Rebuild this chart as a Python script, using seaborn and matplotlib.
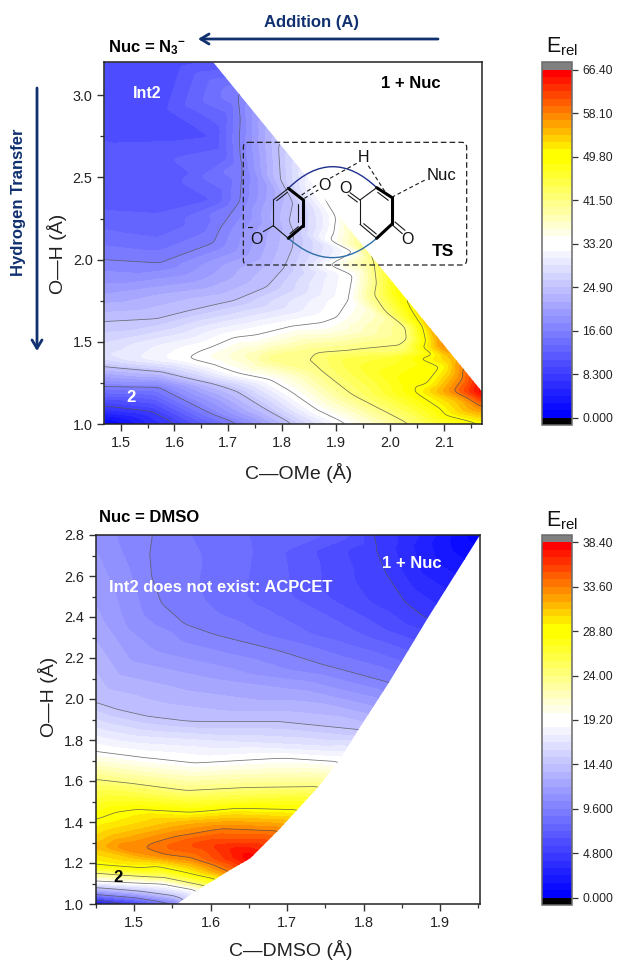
import numpy as np
import matplotlib
matplotlib.use("Agg")
import matplotlib.pyplot as plt
import seaborn as sns
from matplotlib.colors import ListedColormap, BoundaryNorm
from matplotlib.patches import FancyBboxPatch, PathPatch, FancyArrowPatch, Polygon
from matplotlib.path import Path
from matplotlib.ticker import MultipleLocator, FormatStrFormatter
from matplotlib.tri import Triangulation, LinearTriInterpolator

n3_x = [1.47,1.56,1.604, 1.47,1.57,1.617,1.666,1.72, 1.47,1.573,1.623,1.68,1.716,1.772,1.82,
        1.623,1.673,1.716,1.778,1.815,1.865,1.92, 1.648,1.666,1.71,1.753,1.815,1.871,1.902,1.924,1.932,1.934,1.9,1.8675,
        1.79,1.868,1.927,2.036, 1.859,1.927,2.02,2.033,2.03,1.97,1.9525,
        2.0175,2.06,2.095,2.07,2.045,2.044,2.17, 2.1,2.135,2.117,2.17, 2.17,
        1.47,1.573,1.63,1.71,1.772,1.803,1.819,1.822,1.82,1.7925,
        1.47,1.573,1.672,1.709,1.726,1.7175,
        1.47,1.5,1.57,1.672,1.672, 1.47,1.6,1.57, 1.47,1.57,1.672, 1.47,
        1.47,1.55,1.6, 1.7,1.75,1.9,2.0,2.0, 2.12,2.13,1.87,1.47,1.47,
        1.70,1.70,1.47,1.57,1.65]
n3_y = [1.11,1.076,1.0, 1.23,1.225,1.147,1.066,1.0, 1.35,1.32,1.28,1.24,1.2,1.086,1.0,
        1.40,1.36,1.31,1.27,1.2,1.086,1.0, 1.444,1.465,1.527,1.533,1.594,1.602,1.65,1.76,1.905,2.05,2.27,2.41,
        1.40,1.336,1.184,1.0, 1.434,1.45,1.455,1.516,1.59,1.99,2.07,
        1.81,1.6,1.35,1.244,1.244,1.2,1.0, 1.48,1.28,1.2,1.107, 1.2,
        1.625,1.643,1.69,1.75,1.834,1.947,2.07,2.16,2.35,2.71,
        2.0,1.98,2.10,2.30,2.56,3.01,
        2.72,2.63,2.45,2.74,3.2, 3.2,3.2,2.9, 2.30,2.23,2.36, 1.8,
        1.42,1.40,1.40, 1.42,1.41,1.4,1.3,1.4, 1.4,1.15,2.2,1.0,1.5,
        2.9,2.6,2.13,2.09,2.2]
n3_e = [8.3,8.3,8.3, 16.6,16.6,16.6,16.6,16.6, 24.9,24.9,24.9,24.9,24.9,24.9,24.9,
        33.2,33.2,33.2,33.2,33.2,33.2,33.2, 33.2,33.2,33.2,33.2,33.2,33.2,33.2,33.2,33.2,33.2,33.2,33.2,
        41.5,41.5,41.5,41.5, 41.5,41.5,41.5,41.5,41.5,41.5,41.5,
        49.8,49.8,49.8,49.8,49.8,49.8,49.8, 58.1,58.1,58.1,58.1, 66.4,
        24.9,24.9,24.9,24.9,24.9,24.9,24.9,24.9,24.9,24.9,
        16.6,16.6,16.6,16.6,16.6,16.6,
        11.07,11.07,11.07,11.07,11.07, 10.4,10.4,10.4, 12.45,12.45,12.45, 20.5,
        29,31,32.6, 36,38.5,44,48,46, 55,55,29.5,0.5,27.5,
        14,14,14.5,14.5,14.5]
n3_edge_x = [1.47, 1.47, 1.672, 2.17, 2.17]
n3_edge_y = [1.0, 3.2, 3.2, 1.2, 1.0]

dmso_x = [1.813,1.817,1.83,1.856,1.883, 1.524,1.52,1.522,1.535,1.567,1.6,1.687,1.757,1.833,
          1.45,1.478,1.517,1.57,1.687,1.793, 1.45,1.517,1.578,1.696,1.767, 1.45,1.496,1.57,1.643,1.743,
          1.45,1.477,1.502,1.574,1.635,1.715, 1.489,1.515,1.552,1.617,1.689, 1.539,1.574,1.604,1.622,
          1.45,1.509,1.53,1.57,1.609, 1.45,1.496,1.539,1.591, 1.45,1.496,1.539,1.583,
          1.45,1.5,1.55,1.565, 1.45,1.5,1.556, 1.45,1.5,
          1.45,1.45,1.95,1.652, 1.45,1.7,1.8, 1.5,1.6,1.72, 1.5,1.63,1.74, 1.5,1.63,1.73,
          1.5,1.63,1.72, 1.55,1.63,1.7, 1.45,1.47,1.5,1.57, 1.55,1.6,1.64,
          1.478,1.574,1.65,1.75,1.785, 1.88, 1.49,1.49,1.60,1.655,1.87]
dmso_y = [2.8,2.727,2.613,2.467,2.39, 2.8,2.694,2.597,2.467,2.361,2.32,2.239,2.157,2.08,
          1.98,1.946,1.913,1.889,1.889,1.849, 1.743,1.711,1.686,1.711,1.694, 1.608,1.589,1.553,1.567,1.572,
          1.413,1.45,1.462,1.447,1.467,1.459, 1.276,1.288,1.328,1.369,1.358, 1.239,1.223,1.19,1.158,
          1.19,1.174,1.182,1.15,1.12, 1.15,1.137,1.128,1.088, 1.112,1.104,1.098,1.068,
          1.08,1.065,1.04,1.02, 1.045,1.03,1.0, 1.02,1.0,
          1.0,2.8,2.8,1.223, 2.4,2.5,2.31, 2.2,2.1,2.05, 1.82,1.79,1.77, 1.65,1.63,1.64,
          1.52,1.51,1.52, 1.40,1.42,1.41, 1.28,1.34,1.22,1.19, 1.28,1.29,1.26,
          2.8,2.8,2.8,2.8,2.8, 2.8, 2.6,2.35,2.55,2.72,2.6]
dmso_e = [4.8,4.8,4.8,4.8,4.8, 9.6,9.6,9.6,9.6,9.6,9.6,9.6,9.6,9.6,
          14.4,14.4,14.4,14.4,14.4,14.4, 19.2,19.2,19.2,19.2,19.2, 24,24,24,24,24,
          28.8,28.8,28.8,28.8,28.8,28.8, 33.6,33.6,33.6,33.6,33.6, 33.6,33.6,33.6,33.6,
          28.8,28.8,28.8,28.8,28.8, 24,24,24,24, 19.2,19.2,19.2,19.2,
          14.4,14.4,14.4,14.4, 9.6,9.6,9.6, 4.8,4.8,
          1.5,11,0.3,38.2, 12.2,7.3,7.2, 11.8,12,11.9, 16.8,16.8,16.8, 21.6,21.6,21.6,
          26.4,26.4,26.4, 31.2,31.2,31.2, 31.5,31,31,31.2, 34.8,36,37.5,
          10.4,8.8,8.0,7.2,6.4, 3.0, 10.6,11.2,8.6,8.0,3.4]
dmso_edge_x = [1.45, 1.45, 1.952, 1.883, 1.833, 1.793, 1.767, 1.739, 1.689, 1.652, 1.622, 1.583, 1.556]
dmso_edge_y = [1.0, 2.8, 2.8, 2.39, 2.08, 1.849, 1.694, 1.564, 1.361, 1.223, 1.158, 1.068, 1.0]

n3_cbar_ticks = [0.0, 8.3, 16.6, 24.9, 33.2, 41.5, 49.8, 58.1, 66.4]
n3_cbar_labels = ["0.000", "8.300", "16.60", "24.90", "33.20", "41.50", "49.80", "58.10", "66.40"]
dmso_cbar_ticks = [0.0, 4.8, 9.6, 14.4, 19.2, 24.0, 28.8, 33.6, 38.4]
dmso_cbar_labels = ["0.000", "4.800", "9.600", "14.40", "19.20", "24.00", "28.80", "33.60", "38.40"]

# ---------- style ----------
sns.set_theme(style="ticks")
plt.rcParams.update({
    "font.family": ["Liberation Sans", "DejaVu Sans"],
    "mathtext.fontset": "custom",
    "mathtext.rm": "Liberation Sans",
    "mathtext.it": "Liberation Sans:italic",
    "mathtext.bf": "Liberation Sans:bold",
    "mathtext.default": "regular",
    "axes.edgecolor": "#222222",
    "xtick.color": "#333333", "ytick.color": "#333333",
    "xtick.labelcolor": "#222222", "ytick.labelcolor": "#222222",
})
W, H = 617, 961
NAVY = "#10306f"
fig = plt.figure(figsize=(W / 100, H / 100), dpi=100, facecolor="white")


def rect(l, t, r, b):
    return [l / W, 1 - b / H, (r - l) / W, (b - t) / H]


def make_cmap():
    lower = sns.blend_palette(["#0000ff", "#ffffff"], 24)
    upper = sns.blend_palette(["#ffffff", "#ffff00"], 12) + sns.blend_palette(["#ffff00", "#ff0000"], 12)
    cm = ListedColormap(list(lower) + list(upper))
    cm.set_under("#000000")
    cm.set_over("#808080")
    return cm


def surface(x, y, e, xlim, ylim, sigma=2.0):
    """Turn the read samples into a surface on a fine grid, lightly evened out."""
    gx = np.linspace(xlim[0], xlim[1], 380)
    gy = np.linspace(ylim[0], ylim[1], 370)
    GX, GY = np.meshgrid(gx, gy)
    zi = LinearTriInterpolator(Triangulation(x, y), e)(GX, GY)
    w = (~np.ma.getmaskarray(zi)).astype(float)
    v = np.ma.filled(zi, 0.0) * w
    r = int(4 * sigma)
    k = np.exp(-0.5 * (np.arange(-r, r + 1) / sigma) ** 2)
    k /= k.sum()
    for axis in (0, 1):
        v = np.apply_along_axis(lambda m: np.convolve(m, k, mode="same"), axis, v)
        w = np.apply_along_axis(lambda m: np.convolve(m, k, mode="same"), axis, w)
    Z = np.where(w > 1e-4, v / np.maximum(w, 1e-4), np.nan)
    return gx, gy, np.ma.masked_invalid(Z)


def panel(box, cbox, x, y, e, edge_x, edge_y, ticks, labels, xlim, ylim, xmaj, ymaj, xlabel, ylabel, xl, yl):
    ax = fig.add_axes(rect(*box))
    top = ticks[-1]
    levels = [top * i / 48 for i in range(49)]
    cmap = make_cmap()
    norm = BoundaryNorm(levels, 48)
    gx, gy, Z = surface(x, y, e, xlim, ylim)
    clip = Polygon(np.column_stack([edge_x, edge_y]), closed=True, transform=ax.transData)
    cs = ax.contourf(gx, gy, Z, levels=levels, cmap=cmap, norm=norm, extend="both")
    cs.set_clip_path(clip)
    cl = ax.contour(gx, gy, Z, levels=ticks[1:-1], colors="#505050", linewidths=0.55, alpha=0.8)
    cl.set_clip_path(clip)
    ax.set_xlim(*xlim)
    ax.set_ylim(*ylim)
    ax.xaxis.set_major_locator(MultipleLocator(xmaj))
    ax.xaxis.set_minor_locator(MultipleLocator(xmaj / 2))
    ax.yaxis.set_major_locator(MultipleLocator(ymaj))
    ax.yaxis.set_minor_locator(MultipleLocator(ymaj / 2))
    ax.xaxis.set_major_formatter(FormatStrFormatter("%.1f"))
    ax.yaxis.set_major_formatter(FormatStrFormatter("%.1f"))
    ax.tick_params(which="major", length=5, width=1.0, labelsize=10.4, pad=3.5)
    ax.tick_params(which="minor", length=3, width=0.9)
    for s in ax.spines.values():
        s.set_linewidth(1.1)
    ax.set_xlabel(xlabel, fontsize=14, color="#222222", va="center")
    ax.set_ylabel(ylabel, fontsize=14, color="#222222", va="center")
    ax.xaxis.set_label_coords(*xl)
    ax.yaxis.set_label_coords(*yl)

    cax = fig.add_axes(rect(*cbox))
    cb = fig.colorbar(cs, cax=cax, extend="both", extendrect=True, extendfrac=0.021, drawedges=False)
    cb.set_ticks(ticks)
    cb.set_ticklabels(labels)
    cb.minorticks_off()
    cb.ax.tick_params(length=4.5, width=0.9, labelsize=8.7, pad=3, color="#333333")
    cb.outline.set_edgecolor("#6a6a6a")
    cb.outline.set_linewidth(1.1)
    return ax


ax1 = panel((104.4, 62.3, 481.7, 424.2), (542.3, 62.3, 572, 425),
            n3_x, n3_y, n3_e, n3_edge_x, n3_edge_y, n3_cbar_ticks, n3_cbar_labels,
            (1.47, 2.17), (1.0, 3.2), 0.1, 0.5, "C\u2014OMe (\u00c5)", "O\u2014H (\u00c5)",
            (0.516, -0.135), (-0.125, 0.47))
ax2 = panel((95.7, 535, 480, 904), (542.3, 535, 572, 905),
            dmso_x, dmso_y, dmso_e, dmso_edge_x, dmso_edge_y, dmso_cbar_ticks, dmso_cbar_labels,
            (1.45, 1.952), (1.0, 2.8), 0.1, 0.2, "C\u2014DMSO (\u00c5)", "O\u2014H (\u00c5)",
            (0.508, -0.125), (-0.124, 0.561))

# ---------- annotation layer in pixel space ----------
ov = fig.add_axes([0, 0, 1, 1], facecolor="none")
ov.set_xlim(0, W)
ov.set_ylim(H, 0)
ov.axis("off")


def T(x, y, s, size=12, color="black", weight="bold", **kw):
    ov.text(x, y, s, fontsize=size, color=color, fontweight=weight, ha=kw.pop("ha", "center"),
            va=kw.pop("va", "center"), **kw)


T(108, 48, "Nuc = N$_{3}$$^{-}$", ha="left")
T(312, 22, "Addition (A)", color=NAVY)
T(19, 202, "Hydrogen Transfer", color=NAVY, rotation=90)
T(147, 94, "Int2", color="white", size=11.5)
T(131, 398, "2", color="white")
T(411, 84, "1 + Nuc")
T(443, 251, "TS", size=12.5)
T(99, 517, "Nuc = DMSO", ha="left")
T(109, 587, "Int2 does not exist: ACPCET", color="white", ha="left")
T(412, 563, "1 + Nuc", color="white")
T(118, 877, "2")
T(562, 52, "E$_{rel}$", size=15.5, weight="normal", color="#111111", va="baseline")
T(562, 526, "E$_{rel}$", size=15.5, weight="normal", color="#111111", va="baseline")

arrow_style = dict(arrowstyle="->,head_length=6,head_width=3.6", color=NAVY, lw=2.0, shrinkA=0, shrinkB=0)
ov.add_patch(FancyArrowPatch((438, 39), (198, 39), **arrow_style))
ov.add_patch(FancyArrowPatch((37, 88), (37, 351), **arrow_style))

# molecule, given in picture pixels relative to the scheme box


def z(px, py):
    return 235 + px / 3, 135 + py / 3


def seg(a, b, lw=0.8, ls="-", color="#1a1a1a"):
    (x0, y0), (x1, y1) = z(*a), z(*b)
    ov.plot([x0, x1], [y0, y1], lw=lw, ls=ls, color=color, solid_capstyle="round",
            dash_capstyle="butt")


bx0, by0 = z(25, 22)
bx1, by1 = z(695, 390)
ov.add_patch(FancyBboxPatch((bx0 + 4, by0 + 4), bx1 - bx0 - 8, by1 - by0 - 8,
                            boxstyle="round,pad=4,rounding_size=5", fill=False, ec="#222222",
                            lw=0.9, ls=(0, (4.5, 2.5))))


def arc(a, c, b, color):
    ov.add_patch(PathPatch(Path([z(*a), z(*c), z(*b)], [Path.MOVETO, Path.CURVE3, Path.CURVE3]),
                           fill=False, ec=color, lw=1.0))


arc((160, 160), (292, 31), (425, 158), "#1f2f8f")
arc((160, 310), (292, 426), (425, 310), "#2f6fa8")

A, B, C, D, E, F = (160, 160), (205, 195), (205, 272), (160, 310), (115, 272), (115, 195)
P, Q, R, S, U, V = (375, 195), (425, 158), (470, 187), (470, 268), (425, 310), (375, 268)
for a, b in [(A, B), (B, C), (C, D), (Q, R), (R, S), (S, U)]:
    seg(a, b, lw=2.2, color="black")
for a, b in [(D, E), (E, F), (F, A), (U, V), (V, P), (P, Q),
             ((125, 197), (157, 172)), ((190, 208), (190, 262)), ((165, 296), (190, 275)),
             ((428, 172), (460, 196)), ((386, 266), (424, 297)),
             ((375, 195), (345, 173)), ((367, 201), (339, 180)),
             ((470, 268), (502, 296)), ((480, 261), (510, 286)), (E, (85, 290))]:
    seg(a, b)
dash = (0, (3.5, 2.5))
for a, b in [((200, 180), (245, 150)), ((208, 190), (250, 165)), ((285, 130), (365, 85)),
             ((400, 92), (450, 170)), ((470, 187), (570, 135))]:
    seg(a, b, ls=dash)
for p, s, fs in [((267, 150), "O", 11.5), ((330, 160), "O", 11.5), ((518, 312), "O", 11.5),
                 ((65, 312), "O", 11.5), ((385, 68), "H", 11.5), ((620, 122), "Nuc", 12)]:
    T(*z(*p), s, size=fs, weight="normal", color="#111111")
seg((38, 275), (52, 275), lw=0.9)

fig.savefig("out.png", dpi=100, facecolor="white")
